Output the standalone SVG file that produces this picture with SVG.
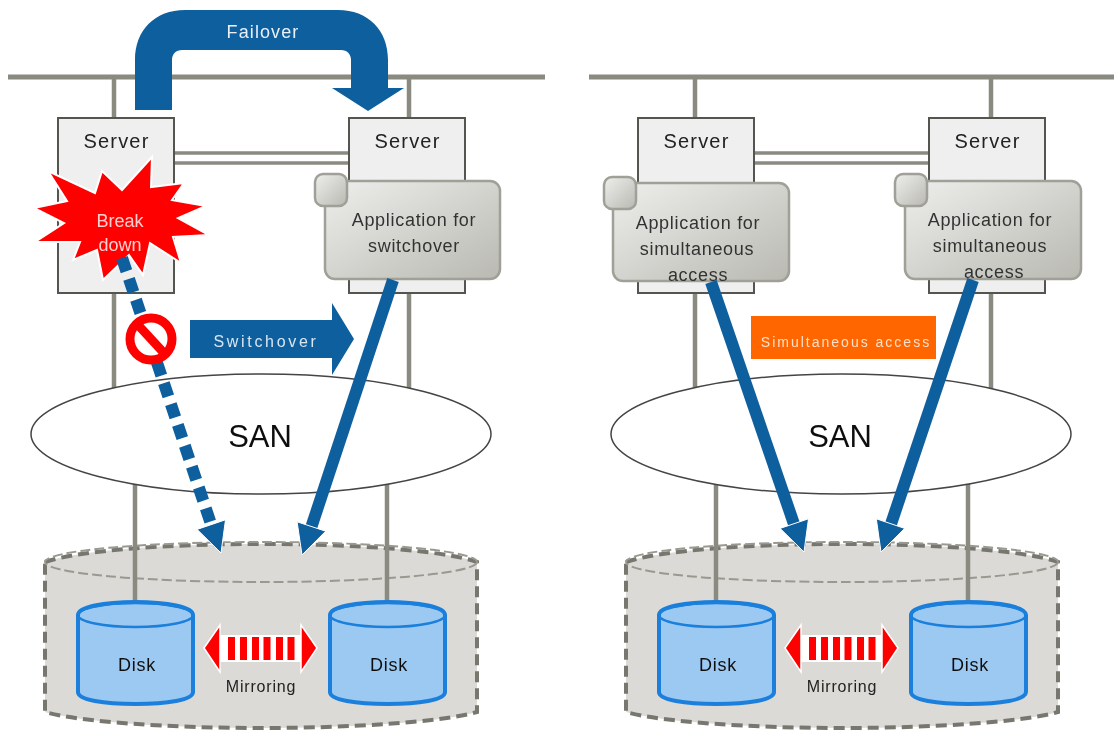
<svg xmlns="http://www.w3.org/2000/svg" width="1114" height="731" viewBox="0 0 1114 731">
<style>
text{font-family:"Liberation Sans",Arial,sans-serif;text-anchor:middle}
.bus{stroke:#8a8a80;fill:none;stroke-width:5}
.thin{stroke:#8a8a80;fill:none;stroke-width:4.500}
.link{stroke:#8a8a80;fill:none;stroke-width:3.500}
.srv{fill:#efefef;stroke:#55554f;stroke-width:2}
.app{fill:url(#ga);stroke:#a0a098;stroke-width:2.500}
.t{font-size:20px;fill:#222;letter-spacing:1.2px}
.lab{font-size:18px;fill:#333;letter-spacing:.7px}
.dk{font-size:18px;fill:#111;letter-spacing:.8px}
.mir{font-size:16px;fill:#222;letter-spacing:.8px}
.san{fill:#fff;stroke:#444;stroke-width:1.500}
.santx{font-size:31px;fill:#111}
.vault{fill:#dbdad6;stroke:#77776f;stroke-width:4;stroke-dasharray:11 6}
.vtop{fill:none;stroke:#999990;stroke-width:2;stroke-dasharray:10 4}
.disk{fill:#9bc9f2;stroke:#1a7fdc;stroke-width:4}
.dtop{fill:none;stroke:#1a7fdc;stroke-width:2.500}
.blue{fill:#115e9e}
.head{fill:#115e9e;stroke:#fff;stroke-width:1}
.arr{stroke:#115e9e;stroke-width:12;fill:none}
</style>
<defs>
<linearGradient id="ga" x1="0" y1="0" x2="1" y2="1"><stop offset="0" stop-color="#eeeeec"/><stop offset="1" stop-color="#b9b9b2"/></linearGradient>
<filter id="soft" x="-2%" y="-2%" width="104%" height="104%"><feGaussianBlur stdDeviation="0.6"/></filter>
<g id="mirror">
<rect x="219" y="635" width="84" height="27" fill="#fff"/>
<polygon points="204,648 220,625 220,672" fill="#f00" stroke="#fff" stroke-width="1.500"/>
<polygon points="317,648 301,625 301,672" fill="#f00" stroke="#fff" stroke-width="1.500"/>
<path d="M231.500 637V660M243.500 637V660M255.500 637V660M267 637V660M279.500 637V660M291 637V660" stroke="#f00" stroke-width="7" fill="none"/>
</g>
<g id="disk">
<path class="disk" d="M78 615V692C78 700 104 704 135.500 704S193 700 193 692V615C193 607 167 602 135.500 602S78 607 78 615Z"/>
<ellipse class="dtop" cx="135.500" cy="615" rx="57.500" ry="12"/>
<text class="dk" x="137" y="671">Disk</text>
</g>
</defs>
<rect width="1114" height="731" fill="#fff"/>
<g filter="url(#soft)">
<g id="vault-left">
<path class="vault" d="M45 562C80 550 170 544 261 544S442 550 477 562V712C442 722 352 728 261 728S80 722 45 712Z"/>
<ellipse class="vtop" cx="261" cy="562" rx="216" ry="20"/>
</g>
<g id="vault-right">
<path class="vault" d="M626 562C661 550 751 544 842 544S1023 550 1058 562V712C1023 722 933 728 842 728S661 722 626 712Z"/>
<ellipse class="vtop" cx="842" cy="562" rx="216" ry="20"/>
</g>
<g id="connectors">
<path class="bus" d="M8 77H545M589 77H1114"/>
<path class="thin" d="M114 77V400M409 77V400M695 77V400M991 77V400"/>
<path class="link" d="M170 153H352M170 163H352M750 153H933M750 163H933"/>
<path class="thin" d="M135 470V604M387 470V604M716 470V604M968 470V604"/>
</g>
<g id="san-left"><ellipse class="san" cx="261" cy="434" rx="230" ry="60"/><text class="santx" x="260" y="447">SAN</text></g>
<g id="san-right"><ellipse class="san" cx="841" cy="434" rx="230" ry="60"/><text class="santx" x="840" y="447">SAN</text></g>
<g id="server-a"><rect class="srv" x="58" y="118" width="116" height="175"/><text class="t" x="116.500" y="148">Server</text></g>
<g id="server-b"><rect class="srv" x="349" y="118" width="116" height="175"/><text class="t" x="407.500" y="148">Server</text></g>
<g id="server-c"><rect class="srv" x="638" y="118" width="116" height="175"/><text class="t" x="696.500" y="148">Server</text></g>
<g id="server-d"><rect class="srv" x="929" y="118" width="116" height="175"/><text class="t" x="987.500" y="148">Server</text></g>
<g id="disk-1"><use href="#disk"/></g>
<g id="disk-2"><use href="#disk" x="252"/></g>
<g id="disk-3"><use href="#disk" x="581"/></g>
<g id="disk-4"><use href="#disk" x="833"/></g>
<g id="mirroring-left"><use href="#mirror"/><text class="mir" x="261" y="692">Mirroring</text></g>
<g id="mirroring-right"><use href="#mirror" x="581"/><text class="mir" x="842" y="692">Mirroring</text></g>
<g id="app-b"><rect class="app" x="325" y="181" width="175" height="98" rx="10"/><rect class="app" x="315" y="174" width="32" height="32" rx="8"/><text class="lab" x="414" y="226">Application for</text><text class="lab" x="414" y="252">switchover</text></g>
<g id="app-c"><rect class="app" x="613" y="183" width="176" height="98" rx="10"/><rect class="app" x="604" y="177" width="32" height="32" rx="8"/><text class="lab" x="698" y="229">Application for</text><text class="lab" x="697" y="255">simultaneous</text><text class="lab" x="698" y="281">access</text></g>
<g id="app-d"><rect class="app" x="905" y="181" width="176" height="98" rx="10"/><rect class="app" x="895" y="174" width="32" height="32" rx="8"/><text class="lab" x="990" y="226">Application for</text><text class="lab" x="990" y="252">simultaneous</text><text class="lab" x="994" y="278">access</text></g>
<g id="breakdown">
<polygon points="152,157 151,187 184,183 172,200 206,206 178,218 209,235 173,237 181,263 150,243 143,275 129,255 103,280 97,250 73,260 80,242 35,242 64,223 34,208 67,201 48,171 95,193 102,171 122,190" fill="#f00" stroke="#fff" stroke-width="2"/>
<text x="120" y="227" font-size="18" fill="#ffd0d0">Break</text>
<text x="120" y="251" font-size="18" fill="#ffd0d0">down</text>
</g>
<g id="arrows">
<path class="arr" d="M122 258L212 527" stroke-width="13" stroke-dasharray="14 8"/>
<polygon class="head" points="221,553 197.100,529.400 225.500,519.800"/>
<path class="arr" d="M393 280L311 528"/>
<polygon class="head" points="302,555 297.100,521.800 325.700,531.200"/>
<path class="arr" d="M711 282L795 527"/>
<polygon class="head" points="804,552 780.100,528.400 808.500,518.800"/>
<path class="arr" d="M973 280L890 527"/>
<polygon class="head" points="881,552 876.300,518.800 904.700,528.400"/>
</g>
<g id="no-entry"><circle cx="151" cy="339" r="21" fill="#fff" stroke="#f00" stroke-width="9"/><path d="M139 326L163 352" stroke="#f00" stroke-width="9"/></g>
<g id="failover"><path class="blue" d="M135 110V60C135 30 155 10 185 10H338C368 10 388 30 388 60V88H404L368 111L332 88H351V60C351 54 347 50 341 50H182C176 50 172 54 172 60V110Z"/><text x="263" y="38" font-size="18" letter-spacing="1.100" fill="#e8f0f8">Failover</text></g>
<g id="switchover"><polygon class="blue" points="190,320 332,320 332,303 354,339 332,375 332,358 190,358"/><text x="266" y="347" font-size="16" letter-spacing="2.700" fill="#d8e6f2">Switchover</text></g>
<g id="simultaneous"><rect x="751" y="316" width="185" height="43" fill="#f60"/><text x="846" y="347" font-size="14" letter-spacing="2" fill="#ffe0c8">Simultaneous access</text></g>
</g>
</svg>
